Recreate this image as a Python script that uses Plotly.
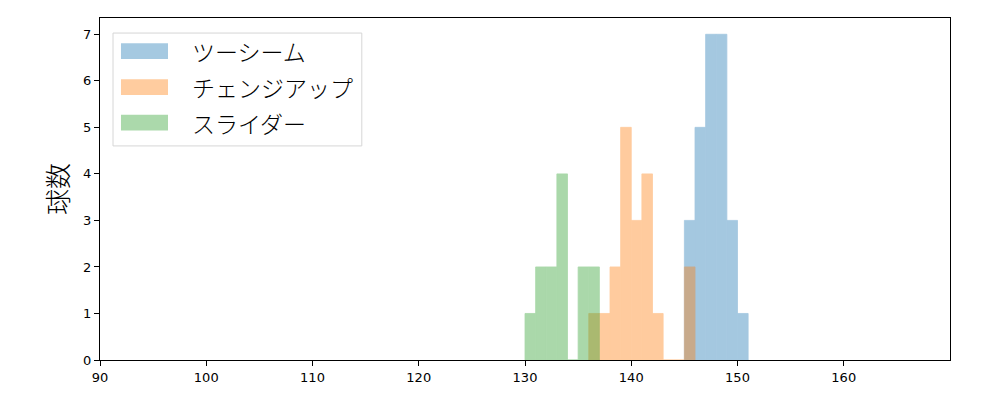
import plotly.graph_objects as go

# histogram bins (left edge, width 1) and counts per pitch type
pitch_names = ["ツーシーム", "チェンジアップ", "スライダー"]
pitch_colors = ["#1f77b4", "#ff7f0e", "#2ca02c"]

twoseam_left = [145, 146, 147, 148, 149, 150]
twoseam_count = [3, 5, 7, 7, 3, 1]

change_left = [136, 137, 138, 139, 140, 141, 142, 143, 144, 145]
change_count = [1, 1, 2, 5, 3, 4, 1, 0, 0, 2]

slider_left = [130, 131, 132, 133, 134, 135, 136]
slider_count = [1, 2, 2, 4, 0, 2, 2]

x_ticks = [90, 100, 110, 120, 130, 140, 150, 160]
y_ticks = [0, 1, 2, 3, 4, 5, 6, 7]

jp_font = "Noto Sans CJK JP"

fig = go.Figure()
series = [(twoseam_left, twoseam_count), (change_left, change_count), (slider_left, slider_count)]
for (left, count), name, color in zip(series, pitch_names, pitch_colors):
    fig.add_trace(go.Bar(
        x=left,
        y=count,
        width=1,
        offset=0,
        name=name,
        marker=dict(color=color, line=dict(width=0.8, color=color)),
        opacity=0.4,
        showlegend=False,
    ))

# matplotlib-like legend box
fig.add_shape(type="rect", xref="paper", yref="paper",
              x0=0.0153, x1=0.308, y0=0.626, y1=0.956,
              line=dict(color="#d6d6d6", width=1), fillcolor="rgba(255,255,255,0.8)")
row_y = [0.903, 0.798, 0.694]
for name, color, yy in zip(pitch_names, pitch_colors, row_y):
    fig.add_shape(type="rect", xref="paper", yref="paper",
                  x0=0.0247, x1=0.080, y0=yy - 0.023, y1=yy + 0.023,
                  line=dict(width=0), fillcolor=color, opacity=0.4)
    fig.add_annotation(xref="paper", yref="paper", x=0.106, y=yy,
                       text=name, showarrow=False, xanchor="left", yanchor="middle",
                       font=dict(family=jp_font, size=23, color="black", weight=300))

fig.update_xaxes(
    range=[90, 170],
    tickvals=x_ticks,
    ticks="outside", ticklen=5, tickcolor="black",
    showline=True, linecolor="black", linewidth=1.2, mirror=True,
    showgrid=False, zeroline=False,
    tickfont=dict(family="DejaVu Sans", size=13, color="black"),
)
fig.update_yaxes(
    range=[0, 7.35],
    tickvals=y_ticks,
    ticks="outside", ticklen=5, tickcolor="black",
    showline=True, linecolor="black", linewidth=1.2, mirror=True,
    showgrid=False, zeroline=False,
    tickfont=dict(family="DejaVu Sans", size=13, color="black"),
    title=dict(text="球数", font=dict(family=jp_font, size=26, color="black", weight=300), standoff=6),
)

# the page adds ~8px body margin, so the margins are shifted to compensate
fig.update_layout(
    width=1000, height=400,
    margin=dict(l=92, r=58, t=10, b=48),
    barmode="overlay",
    plot_bgcolor="white",
    paper_bgcolor="white",
    showlegend=False,
)

fig.write_html("out.html")
